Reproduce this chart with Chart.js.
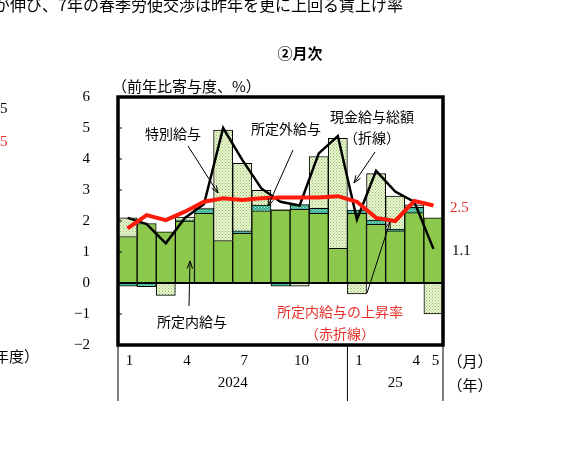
<!DOCTYPE html>
<html><head><meta charset="utf-8">
<script src="https://cdn.jsdelivr.net/npm/chart.js@4/dist/chart.umd.min.js"></script>
<style>html,body{margin:0;padding:0;background:#fff}#w{width:569px;height:467px}</style>
</head><body><div id="w"><canvas id="c"></canvas></div>
<script>
const months=['1','2','3','4','5','6','7','8','9','10','11','12','1','2','3','4','5'];
const monthTicks=['1','','','4','','','7','','','10','','','1','','','4','5'];
const shoteinai=[1.5,1.92,1.65,2.0,2.25,1.37,1.6,2.33,2.35,2.38,2.25,1.12,2.25,1.89,1.68,2.27,2.1];
const shoteigai=[-0.1,-0.12,0.0,0.03,0.15,0.0,0.08,0.18,-0.1,0.15,0.16,0.0,0.1,0.14,0.05,0.17,0.0];
const tokubetsu=[0.6,0.0,-0.4,0.1,0.02,3.56,2.18,0.48,0.02,-0.1,1.67,3.55,-0.35,1.5,1.07,0.08,-1.0];
const total=[2.1,1.9,1.28,2.1,2.55,5.0,3.97,3.05,2.62,2.5,4.18,4.74,2.05,3.62,2.95,2.62,1.1];
const redRate=[1.76,2.19,2.03,2.3,2.62,2.73,2.68,2.73,2.76,2.76,2.76,2.8,2.62,2.1,2.0,2.65,2.5];
const yTicks=[6,5,4,3,2,1,0,-1,-2];

function pat(bg,dot,step){const c=document.createElement('canvas');c.width=step;c.height=step;const x=c.getContext('2d');x.fillStyle=bg;x.fillRect(0,0,step,step);x.fillStyle=dot;x.fillRect(0,0,1,1);x.fillRect(step/2,step/2,1,1);return x.createPattern(c,'repeat');}
const ctx0=document.getElementById('c').getContext('2d');
const pSp=pat('#eef6d8','#8cbf5a',3);
const pGai=pat('#2fae8f','#c8f0e0',3);
const JP='"Noto Sans CJK JP"', SER='"Liberation Serif","DejaVu Serif"';

const deco={id:'deco',afterDatasetsDraw(ch){
 const c=ch.ctx,a=ch.chartArea,x=ch.scales.x;
 c.save();
 c.strokeStyle='#000';c.lineWidth=3.5;c.strokeRect(a.left,a.top,a.right-a.left,a.bottom-a.top);
 const y0=ch.scales.y.getPixelForValue(0);c.lineWidth=2;c.beginPath();c.moveTo(a.left,y0);c.lineTo(a.right,y0);c.stroke();
 c.lineWidth=1;yTicks.forEach(v=>{const y=ch.scales.y.getPixelForValue(v);c.beginPath();c.moveTo(a.left,y);c.lineTo(a.left+4,y);c.stroke();});
 const xd=(x.getPixelForValue(11)+x.getPixelForValue(12))/2;
 [a.left,xd,a.right].forEach(px=>{c.beginPath();c.moveTo(px,a.bottom);c.lineTo(px,a.bottom+56);c.stroke();});
 c.fillStyle='#000';c.font='15px '+SER;c.textAlign='center';c.textBaseline='middle';
 monthTicks.forEach((t,i)=>{if(t)c.fillText(t,x.getPixelForValue(i)+2,a.bottom+16);});
 c.fillText('2024',(a.left+xd)/2,a.bottom+38);c.fillText('25',(xd+a.right)/2,a.bottom+38);
 c.font='15px '+JP;c.fillText('（月）',470,a.bottom+16);c.fillText('（年）',470,a.bottom+40);
 c.font='bold 15px '+JP;c.fillText('②月次',300,53);
 c.font='15px '+JP;c.textAlign='left';c.fillText('（前年比寄与度、%）',112,86);
 c.font='16px '+JP;c.fillText('が伸び、7年の春季労使交渉は昨年を更に上回る賃上げ率',-6,5);
 c.font='15px '+SER;c.fillText('5',0,109);c.fillStyle='#e8302a';c.fillText('5',0,142);
 c.fillStyle='#000';c.font='15px '+JP;c.fillText('年度）',-6,356);
 c.textAlign='center';c.font='14px '+JP;
 c.fillText('特別給与',173,134);c.fillText('所定外給与',286,129);
 c.fillText('現金給与総額',372,117);c.fillText('（折線）',372,138);c.fillText('所定内給与',192,322);
 c.fillStyle='#e8302a';c.fillText('所定内給与の上昇率',340,312);c.fillText('（赤折線）',340,334);
 c.font='15px '+SER;c.textAlign='left';c.fillText('2.5',450,208);c.fillStyle='#000';c.fillText('1.1',452,251);
 function arr(x1,y1,x2,y2){c.strokeStyle='#000';c.lineWidth=1;c.beginPath();c.moveTo(x1,y1);c.lineTo(x2,y2);c.stroke();
  const an=Math.atan2(y2-y1,x2-x1),L=8;c.beginPath();c.moveTo(x2-L*Math.cos(an-0.35),y2-L*Math.sin(an-0.35));c.lineTo(x2,y2);c.lineTo(x2-L*Math.cos(an+0.35),y2-L*Math.sin(an+0.35));c.stroke();}
 arr(188,146,218,193);arr(293,150,268,206);arr(375,152,354,183);arr(189,306,190,261);arr(367,293,390,222);
 c.restore();}};

new Chart(ctx0,{type:'bar',data:{labels:months,datasets:[
 {type:'line',data:redRate,borderColor:'#ff1a0a',borderWidth:4,pointRadius:0,tension:0,order:0,stack:'red'},
 {type:'line',data:total,borderColor:'#000',borderWidth:2.5,pointRadius:0,tension:0,order:1,stack:'tot'},
 {data:shoteinai,backgroundColor:'#8cc84b',borderColor:'#000',borderWidth:1,stack:'s',order:2},
 {data:shoteigai,backgroundColor:pGai,borderColor:'#000',borderWidth:1,stack:'s',order:3},
 {data:tokubetsu,backgroundColor:pSp,borderColor:'#000',borderWidth:1,stack:'s',order:4}]},
 options:{responsive:true,maintainAspectRatio:false,animation:false,
 layout:{padding:{left:70,right:126,top:97,bottom:122}},
 datasets:{bar:{categoryPercentage:1,barPercentage:1}},
 plugins:{legend:{display:false},tooltip:{enabled:false}},
 scales:{x:{display:false,stacked:true},
  y:{stacked:true,min:-2,max:6,afterFit(s){s.width=48;},afterBuildTicks(s){s.ticks=yTicks.map(v=>({value:v}));},
   grid:{display:false},border:{display:false},
   ticks:{color:'#000',font:{family:'Liberation Serif',size:15},padding:20,callback:v=>v<0?'−'+Math.abs(v):String(v)}}}},
 plugins:[deco]});
</script></body></html>
